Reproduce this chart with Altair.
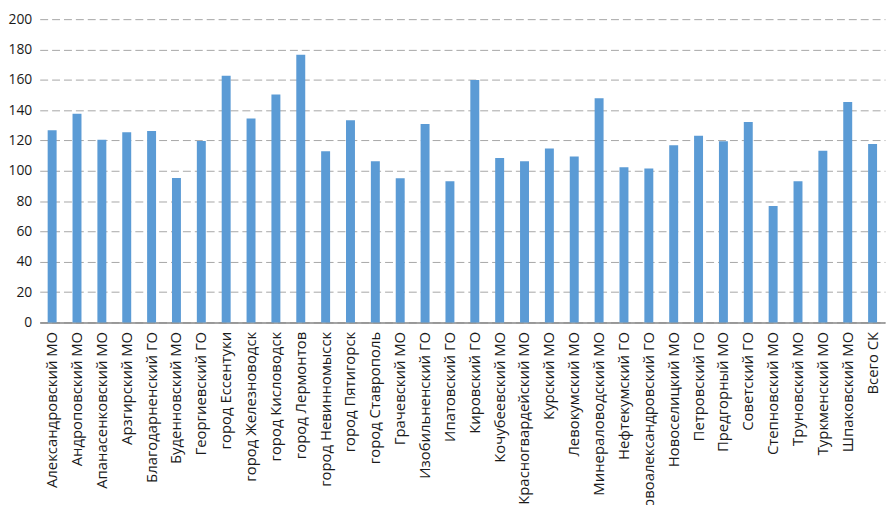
import altair as alt
import pandas as pd

categories = [
    "Александровский МО", "Андроповский МО", "Апанасенковский МО", "Арзгирский МО",
    "Благодарненский ГО", "Буденновский МО", "Георгиевский ГО", "город Ессентуки",
    "город Железноводск", "город Кисловодск", "город Лермонтов", "город Невинномысск",
    "город Пятигорск", "город Ставрополь", "Грачевский МО", "Изобильненский ГО",
    "Ипатовский ГО", "Кировский ГО", "Кочубеевский МО", "Красногвардейский МО",
    "Курский МО", "Левокумский МО", "Минераловодский МО", "Нефтекумский ГО",
    "Новоалександровский ГО", "Новоселицкий МО", "Петровский ГО", "Предгорный МО",
    "Советский ГО", "Степновский МО", "Труновский МО", "Туркменский МО",
    "Шпаковский МО", "Всего СК",
]
values = [
    126.7, 137.6, 120.4, 125.4, 126.2, 95.3, 119.7, 162.7,
    134.4, 150.3, 176.5, 112.8, 133.3, 106.3, 95.0, 130.8,
    93.1, 159.8, 108.4, 106.3, 114.7, 109.4, 147.8, 102.3,
    101.5, 116.8, 123.1, 119.5, 132.1, 76.7, 93.1, 113.2,
    145.3, 117.6,
]
y_ticks = list(range(0, 201, 20))

df = pd.DataFrame({"cat": categories, "val": values})

chart = alt.Chart(df).mark_bar(color="#5B9BD5").encode(
    x=alt.X("cat:N", sort=categories, title=None,
            scale=alt.Scale(paddingInner=0.64, paddingOuter=0.32),
            axis=alt.Axis(labelAngle=-90, labelFontSize=15, labelColor="#1a1a1a",
                          labelFont="Open Sans", ticks=False, labelPadding=9,
                          domainColor="#868686", domainWidth=1.5, labelLimit=0)),
    y=alt.Y("val:Q", title=None,
            scale=alt.Scale(domain=[0, 200], nice=False),
            axis=alt.Axis(values=y_ticks, labelFontSize=14, labelColor="#1a1a1a",
                          labelFont="Open Sans", ticks=False, domain=False,
                          labelPadding=8, grid=True, gridColor="#A6A6A6",
                          gridDash=[8, 4], gridWidth=1)),
).properties(
    width=853, height=306,
    autosize=alt.AutoSizeParams(type="none"),
    padding={"left": 32, "top": 9, "right": 2, "bottom": 182},
).configure_view(stroke=None)

chart.save("out.html", embed_options={"renderer": "svg", "actions": False})
